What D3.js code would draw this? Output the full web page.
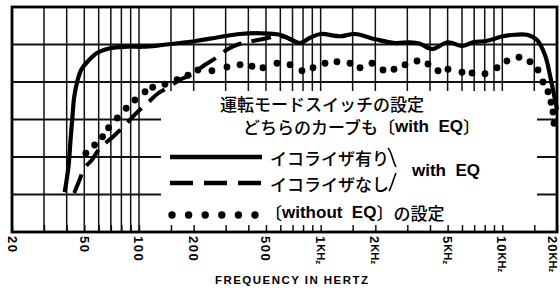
<!doctype html>
<html lang="ja">
  <head>
    <meta charset="UTF-8" />
    <title>Frequency response</title>
    <style>
      body { margin: 0; background: #fff; }
      svg { display: block; }
    </style>
  </head>
  <body>
    <div id="target"></div>
    <script src="https://d3js.org/d3.v7.min.js"></script>
    <script>
      /* global d3 */

      // axis
      const tickFreqs = [20, 50, 100, 200, 500, 1000, 2000, 5000, 10000, 20000];
      const tickLabels = ["20", "50", "100", "200", "500", "1K", "2K", "5K", "10K", "20K"];
      const gridFreqs = [
        20, 30, 40, 50, 60, 70, 80, 90, 100, 150, 200, 300, 400, 500, 600, 700, 800, 900,
        1000, 1500, 2000, 3000, 4000, 5000, 6000, 7000, 8000, 9000, 10000, 15000, 20000,
      ];
      const gridLevels = [60, 65, 70, 75, 80, 85, 90];

      // with EQ, switch on (solid)
      const eqFreq = [39, 41, 42, 43, 44, 46, 48, 52, 59, 69, 86, 105, 131, 168, 209, 279, 360, 464, 597, 696, 770, 874, 1000, 1278, 1546, 2000, 2566, 3103, 3524, 4102, 5024, 6000, 6898, 8234, 10086, 11746, 13672, 15524, 17176, 18300, 19250, 20000];
      const eqLevel = [65.3, 68.9, 72.3, 75.3, 78.0, 80.3, 81.6, 82.7, 83.9, 84.5, 84.7, 84.7, 84.9, 85.2, 85.5, 86.0, 86.4, 86.5, 86.3, 85.6, 85.2, 85.9, 86.4, 86.1, 86.4, 85.7, 85.2, 85.3, 85.1, 84.4, 85.3, 84.8, 85.3, 85.5, 86.1, 86.3, 86.3, 85.6, 83.6, 80.9, 78.3, 76.3];

      // EQ off (dashed), runs into the solid curve near 600 Hz
      const noEqFreq = [44, 47, 50, 55, 61, 72, 84, 99, 115, 126, 143, 168, 191, 231, 269, 309, 360, 476, 575, 640, 696];
      const noEqLevel = [65.2, 66.9, 68.5, 69.6, 71.2, 72.7, 74.3, 76.1, 77.5, 78.4, 79.2, 80.3, 80.9, 82.3, 83.3, 84.4, 85.1, 85.7, 86.1, 86.0, 85.6];

      // without EQ (dots)
      const woFreq = [51, 57, 63, 68, 76, 85, 95, 108, 119, 139, 162, 186, 211, 252, 305, 360, 419, 481, 575, 678, 789, 908, 1057, 1230, 1451, 1647, 1917, 2204, 2534, 2914, 3392, 3898, 4426, 5024, 6000, 6810, 8030, 9348, 10608, 12358, 14206, 15722, 16746, 17844, 18536, 19012, 19250];
      const woLevel = [70.5, 71.6, 72.7, 73.9, 75.2, 76.5, 77.6, 78.7, 79.3, 79.7, 80.3, 80.9, 81.6, 81.5, 82.0, 82.3, 82.1, 81.9, 82.5, 82.3, 81.5, 81.9, 82.5, 82.7, 82.5, 81.9, 82.5, 81.6, 81.7, 82.3, 82.8, 82.4, 81.5, 81.7, 81.3, 81.2, 81.1, 81.9, 82.8, 83.3, 82.7, 81.6, 80.0, 78.7, 77.3, 76.0, 74.5];

      const width = 560,
        height = 291;
      const jp = '"Noto Sans CJK JP", sans-serif';
      const latin = '"Liberation Sans", Arial, sans-serif';

      const svg = d3
        .select("#target")
        .append("svg")
        .attr("width", width)
        .attr("height", height)
        .attr("viewBox", [0, 0, width, height]);

      const x = d3.scaleLog().domain([20, 20000]).range([12, 557]);
      const y = d3.scaleLinear().domain([60, 90]).range([232, 7]);

      const zip = (fs, ls) => fs.map((f, i) => ({ f, l: ls[i] }));
      const eq = zip(eqFreq, eqLevel);
      const noEq = zip(noEqFreq, noEqLevel);
      const wo = zip(woFreq, woLevel);

      // grid
      const grid = svg.append("g").attr("stroke", "#111");
      grid.selectAll("line.v")
        .data(gridFreqs)
        .join("line")
        .attr("class", "v")
        .attr("x1", (d) => x(d))
        .attr("x2", (d) => x(d))
        .attr("y1", y(90))
        .attr("y2", y(60))
        .attr("stroke-width", 1.5);
      grid.selectAll("line.h")
        .data(gridLevels)
        .join("line")
        .attr("class", "h")
        .attr("x1", x(20))
        .attr("x2", x(20000))
        .attr("y1", (d) => y(d))
        .attr("y2", (d) => y(d))
        .attr("stroke-width", 2);

      // white-out behind the legend
      svg.append("rect")
        .attr("x", 161)
        .attr("y", 91)
        .attr("width", 376)
        .attr("height", y(60) - 91 - 1.5)
        .attr("fill", "#fff");

      // small ticks along the bottom
      svg.append("g")
        .attr("transform", `translate(0,${y(60)})`)
        .call(d3.axisBottom(x).tickValues(gridFreqs).tickSize(-7).tickFormat(""))
        .call((g) => g.select(".domain").remove())
        .selectAll("line")
        .attr("stroke", "#111")
        .attr("stroke-width", 1.5);

      // frame
      svg.append("rect")
        .attr("x", x(20))
        .attr("y", y(90))
        .attr("width", x(20000) - x(20))
        .attr("height", y(60) - y(90))
        .attr("fill", "none")
        .attr("stroke", "#000")
        .attr("stroke-width", 2.8);

      // tick labels, turned to read downwards
      const lab = svg.append("g")
        .attr("font-family", latin)
        .attr("font-weight", "bold")
        .attr("fill", "#000");
      tickFreqs.forEach((f, i) => {
        const px = Math.min(x(f), width - 7);
        const t = lab.append("text")
          .attr("transform", `translate(${px},236) rotate(90)`)
          .attr("dominant-baseline", "central")
          .attr("font-size", 13);
        const s = tickLabels[i];
        if (s.endsWith("K")) {
          t.append("tspan").attr("letter-spacing", 1).text(s.slice(0, -1));
          t.append("tspan").attr("font-size", 11).text("KH");
          t.append("tspan").attr("font-size", 8).attr("dy", 1.5).text("z");
        } else {
          t.attr("letter-spacing", 1.5).text(s);
        }
      });

      svg.append("text")
        .attr("x", 215)
        .attr("y", 280)
        .attr("dominant-baseline", "central")
        .attr("font-family", latin)
        .attr("font-weight", "bold")
        .attr("font-size", 11.5)
        .attr("textLength", 153)
        .attr("lengthAdjust", "spacing")
        .text("FREQUENCY IN HERTZ");

      // curves
      const line = d3.line()
        .x((d) => x(d.f))
        .y((d) => y(d.l))
        .curve(d3.curveCatmullRom.alpha(0.5));

      svg.append("path")
        .attr("d", line(noEq))
        .attr("fill", "none")
        .attr("stroke", "#000")
        .attr("stroke-width", 4)
        .attr("stroke-dasharray", "20,10");

      svg.append("path")
        .attr("d", line(eq))
        .attr("fill", "none")
        .attr("stroke", "#000")
        .attr("stroke-width", 4.2)
        .attr("stroke-linejoin", "round");

      svg.append("g")
        .selectAll("circle")
        .data(wo)
        .join("circle")
        .attr("cx", (d) => x(d.f))
        .attr("cy", (d) => y(d.l))
        .attr("r", 3.4)
        .attr("fill", "#000");

      // legend
      const lg = svg.append("g")
        .attr("font-family", jp)
        .attr("font-weight", 500)
        .attr("font-size", 17)
        .attr("fill", "#000");

      lg.append("text").attr("x", 220).attr("y", 103)
        .attr("dominant-baseline", "central")
        .text("運転モードスイッチの設定");
      const l2 = lg.append("text").attr("x", 243).attr("y", 126)
        .attr("dominant-baseline", "central")
        .attr("xml:space", "preserve");
      l2.append("tspan").text("どちらのカーブも〔");
      l2.append("tspan").attr("font-family", latin).attr("font-weight", "bold").text("with  EQ");
      l2.append("tspan").text("〕");

      lg.append("line")
        .attr("x1", 170).attr("x2", 262).attr("y1", 157).attr("y2", 157)
        .attr("stroke", "#000").attr("stroke-width", 4.5);
      lg.append("line")
        .attr("x1", 170).attr("x2", 262).attr("y1", 183).attr("y2", 183)
        .attr("stroke", "#000").attr("stroke-width", 4.5)
        .attr("stroke-dasharray", "23,11");
      lg.append("g")
        .selectAll("circle")
        .data(d3.range(6))
        .join("circle")
        .attr("cx", (i) => 172 + i * 16.6)
        .attr("cy", 215)
        .attr("r", 3.7);

      lg.append("text").attr("x", 270).attr("y", 157)
        .attr("dominant-baseline", "central").text("イコライザ有り");
      lg.append("text").attr("x", 270).attr("y", 183)
        .attr("dominant-baseline", "central").text("イコライザなし");
      const l5 = lg.append("text").attr("x", 265).attr("y", 212)
        .attr("dominant-baseline", "central")
        .attr("xml:space", "preserve");
      l5.append("tspan").text("〔");
      l5.append("tspan").attr("font-family", latin).attr("font-weight", "bold").text("without  EQ");
      l5.append("tspan").text("〕の設定");

      // brace joining the two EQ rows
      lg.append("path")
        .attr("d", "M388,148 C392,152 392,160 396,167 M396,173 C393,180 392,186 389,191")
        .attr("fill", "none")
        .attr("stroke", "#000")
        .attr("stroke-width", 1.6);

      lg.append("text").attr("x", 412).attr("y", 170)
        .attr("dominant-baseline", "central")
        .attr("font-family", latin)
        .attr("font-weight", "bold")
        .attr("font-size", 17)
        .attr("xml:space", "preserve")
        .text("with  EQ");
    </script>
  </body>
</html>
